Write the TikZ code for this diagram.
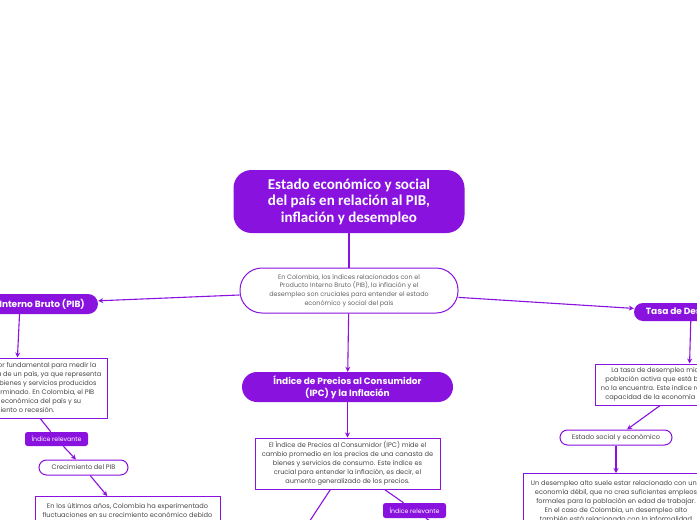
\documentclass[tikz,border=0pt]{standalone}
\usepackage{fontspec}
\setmainfont{Poppins}
\newfontfamily\titlefont{Carlito}
\usetikzlibrary{arrows.meta}
\definecolor{purp}{RGB}{138,18,222}
\definecolor{txt}{RGB}{72,72,72}
\definecolor{subtxt}{RGB}{100,100,100}
\begin{document}
\begin{tikzpicture}[x=1pt,y=-1pt,
  every node/.style={inner sep=0pt, align=center},
  conn/.style={draw=purp, line width=1.1pt},
  arr/.style={conn, -{Stealth[length=5pt,width=5pt]}},
  mainbox/.style={fill=purp, text=white, rounded corners=18pt, font=\titlefont\bfseries\fontsize{15}{16.5}\selectfont},
  headbox/.style={fill=purp, text=white, font=\bfseries\fontsize{9}{12}\selectfont},
  bodybox/.style={draw=purp, line width=1pt, fill=white, text=txt, font=\fontsize{6.6}{9}\selectfont},
  pillbox/.style={draw=purp, line width=1pt, fill=white, text=txt, rounded corners=7.5pt, font=\fontsize{6.6}{9}\selectfont},
  tagbox/.style={fill=purp, text=white, rounded corners=2.5pt, font=\fontsize{6.2}{8}\selectfont},
]
\useasboundingbox (0,0) rectangle (697,520);
\fill[white] (0,0) rectangle (697,520);
\clip (0,0) rectangle (697,520);

\node[mainbox, minimum width=231pt, minimum height=63pt] (title) at (349,201.5) {Estado económico y social\\del país en relación al PIB,\\inflación y desempleo};

\node[bodybox, rounded corners=22pt, minimum width=218pt, minimum height=45pt, text=subtxt, font=\fontsize{6.4}{8.7}\selectfont] (sub) at (349,290.5) {En Colombia, los índices relacionados con el\\Producto Interno Bruto (PIB), la inflación y el\\desempleo son cruciales para entender el estado\\económico y social del país};

% PIB branch
\node[headbox, rounded corners=10pt, minimum width=156pt, minimum height=20pt] (pibh) at (20,304) {Producto Interno Bruto (PIB)};
\node[bodybox, minimum width=182pt, minimum height=60pt] (pibb) at (16,388) {El PIB es un indicador fundamental para medir la\\actividad económica de un país, ya que representa\\el valor total de los bienes y servicios producidos\\en un período determinado. En Colombia, el PIB\\refleja la salud económica del país y su\\crecimiento o recesión.};
\node[tagbox, minimum width=63pt, minimum height=14pt] (tag1) at (56.5,439) {Índice relevante};
\node[pillbox, minimum width=89pt, minimum height=15pt] (crec) at (83.5,467.5) {Crecimiento del PIB};
\node[bodybox, minimum width=185pt, anchor=north, inner ysep=7pt] (pibc) at (127.5,496) {En los últimos años, Colombia ha experimentado\\fluctuaciones en su crecimiento económico debido\\a diversos factores, como la caída de los precios\\del petróleo y la pandemia de COVID-19.};

% IPC branch
\node[headbox, rounded corners=15pt, minimum width=211pt, minimum height=30pt] (ipch) at (347.5,387) {Índice de Precios al Consumidor\\(IPC) y la Inflación};
\node[bodybox, minimum width=185pt, minimum height=51pt] (ipcb) at (347.5,463.5) {El Índice de Precios al Consumidor (IPC) mide el\\cambio promedio en los precios de una canasta de\\bienes y servicios de consumo. Este índice es\\crucial para entender la inflación, es decir, el\\aumento generalizado de los precios.};
\node[tagbox, minimum width=63pt, minimum height=15pt] (tag2) at (414.5,510.5) {Índice relevante};
\coordinate (ipcl) at (290,551);
\coordinate (ipcr) at (470,548);

% Tasa branch
\node[headbox, rounded corners=9pt, minimum width=114pt, minimum height=18pt] (tasah) at (691,312) {Tasa de Desempleo};
\node[bodybox, minimum width=188pt, minimum height=41pt] (tasab) at (689,384.5) {La tasa de desempleo mide el porcentaje de la\\población activa que está buscando empleo, pero\\no la encuentra. Este índice refleja en gran medida la\\capacidad de la economía para generar empleos.};
\node[pillbox, minimum width=112pt, minimum height=15pt] (estado) at (616,437.5) {Estado social y económico};
\node[bodybox, minimum width=186pt, anchor=north, inner ysep=7pt] (desb) at (616,473) {Un desempleo alto suele estar relacionado con una\\economía débil, que no crea suficientes empleos\\formales para la población en edad de trabajar.\\En el caso de Colombia, un desempleo alto\\también está relacionado con la informalidad\\laboral y la falta de oportunidades.};

% connectors
\draw[conn] (title) -- (sub);
\draw[arr] (sub) -- (pibh);
\draw[arr] (sub) -- (tasah);
\draw[arr] (sub) -- (ipch);
\draw[arr] (pibh) -- (pibb);
\draw[conn] (pibb) -- (tag1);
\draw[arr] (tag1) -- (crec);
\draw[arr] (crec) -- (pibc);
\draw[arr] (ipch) -- (ipcb);
\draw[arr] (ipcb) -- (ipcl);
\draw[conn] (ipcb) -- (tag2);
\draw[arr] (tag2) -- (ipcr);
\draw[arr] (tasah) -- (tasab);
\draw[arr] (tasab) -- (estado);
\draw[arr] (estado) -- (desb);
\end{tikzpicture}
\end{document}
